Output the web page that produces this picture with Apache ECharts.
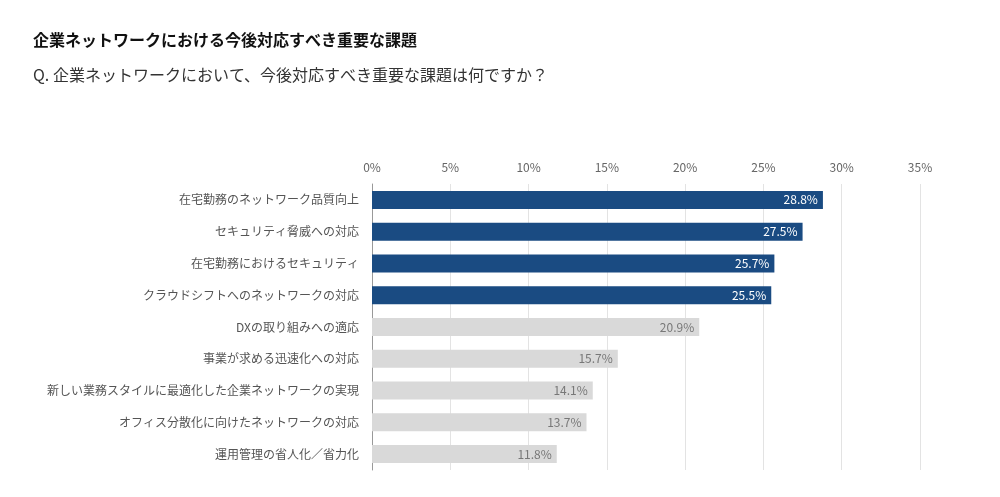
<!DOCTYPE html>
<html><head><meta charset="utf-8">
<script src="https://cdn.jsdelivr.net/npm/echarts@6/dist/echarts.min.js"></script>
<style>html,body{margin:0;padding:0;background:#fff}#c{width:1000px;height:497px}</style>
</head><body><div id="c"></div>
<script>
const categories = ["在宅勤務のネットワーク品質向上","セキュリティ脅威への対応","在宅勤務におけるセキュリティ","クラウドシフトへのネットワークの対応","DXの取り組みへの適応","事業が求める迅速化への対応","新しい業務スタイルに最適化した企業ネットワークの実現","オフィス分散化に向けたネットワークの対応","運用管理の省人化／省力化"];
const values = [28.8, 27.5, 25.7, 25.5, 20.9, 15.7, 14.1, 13.7, 11.8];
const highlighted = [true, true, true, true, false, false, false, false, false];
const title = "企業ネットワークにおける今後対応すべき重要な課題";
const subtitle = "Q. 企業ネットワークにおいて、今後対応すべき重要な課題は何ですか？";

const font = "'Noto Sans CJK JP','Noto Sans',sans-serif";
const chart = echarts.init(document.getElementById('c'));
chart.setOption({
  animation: false,
  textStyle: {fontFamily: font},
  title: [
    {text: title, left: 28, top: 27, textStyle: {fontSize: 16, fontWeight: 'bold', color: '#111', fontFamily: font}},
    {text: subtitle, left: 28, top: 62, textStyle: {fontSize: 16, fontWeight: 'normal', color: '#333', fontFamily: font}}
  ],
  grid: {left: 372, right: 80, top: 184, bottom: 27, containLabel: false},
  xAxis: {
    type: 'value', position: 'top', min: 0, max: 35, interval: 5,
    axisLabel: {formatter: '{value}%', color: '#666', fontSize: 12, margin: 11},
    axisLine: {show: false}, axisTick: {show: false},
    splitLine: {lineStyle: {color: '#e3e3e3'}}
  },
  yAxis: {
    type: 'category', inverse: true, data: categories,
    axisLabel: {color: '#555', fontSize: 12, margin: 13},
    axisLine: {lineStyle: {color: '#999'}}, axisTick: {show: false}
  },
  series: [{
    type: 'bar', barWidth: 18,
    data: values.map((v, i) => ({
      value: v,
      itemStyle: {color: highlighted[i] ? '#1a4b82' : '#d9d9d9'},
      label: {color: highlighted[i] ? '#fff' : '#777'}
    })),
    label: {show: true, position: 'insideRight', fontSize: 12, formatter: p => p.value.toFixed(1) + '%', distance: 5}
  }]
});
</script></body></html>
